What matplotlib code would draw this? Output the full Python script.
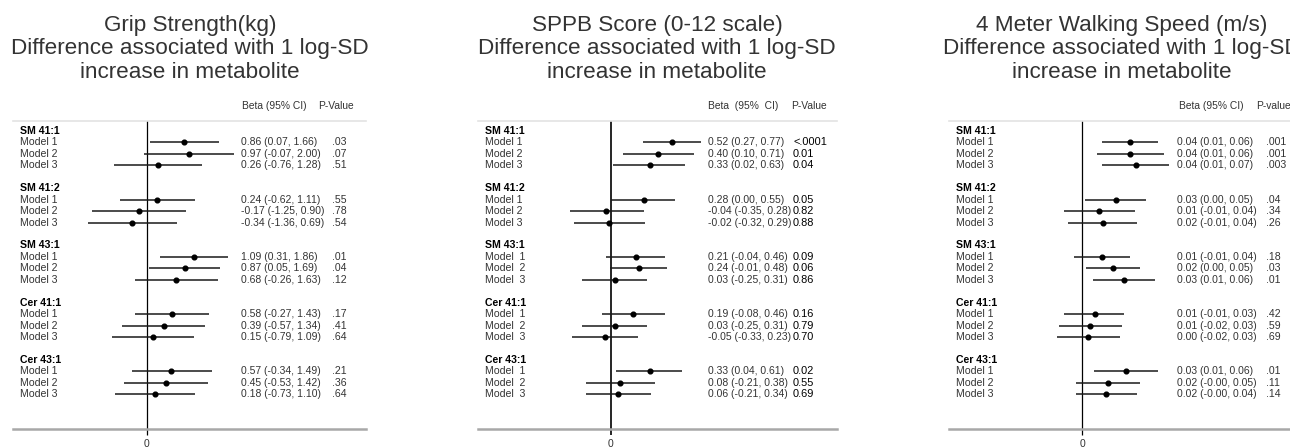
import numpy as np
import matplotlib.pyplot as plt
from matplotlib.transforms import blended_transform_factory

plt.rcParams['font.family'] = ['Liberation Sans', 'DejaVu Sans']

groups = ["SM 41:1", "SM 41:2", "SM 43:1", "Cer 41:1", "Cer 43:1"]

# grip strength
grip_beta = [0.86, 0.97, 0.26, 0.24, -0.17, -0.34, 1.09, 0.87, 0.68,
             0.58, 0.39, 0.15, 0.57, 0.45, 0.18]
grip_lo = [0.07, -0.07, -0.76, -0.62, -1.25, -1.36, 0.31, 0.05, -0.26,
           -0.27, -0.57, -0.79, -0.34, -0.53, -0.73]
grip_hi = [1.66, 2.00, 1.28, 1.11, 0.90, 0.69, 1.86, 1.69, 1.63,
           1.43, 1.34, 1.09, 1.49, 1.42, 1.10]
grip_ci = ["0.86 (0.07, 1.66)", "0.97 (-0.07, 2.00)", "0.26 (-0.76, 1.28)",
           "0.24 (-0.62, 1.11)", "-0.17 (-1.25, 0.90)", "-0.34 (-1.36, 0.69)",
           "1.09 (0.31, 1.86)", "0.87 (0.05, 1.69)", "0.68 (-0.26, 1.63)",
           "0.58 (-0.27, 1.43)", "0.39 (-0.57, 1.34)", "0.15 (-0.79, 1.09)",
           "0.57 (-0.34, 1.49)", "0.45 (-0.53, 1.42)", "0.18 (-0.73, 1.10)"]
grip_p = [".03", ".07", ".51", ".55", ".78", ".54", ".01", ".04", ".12",
          ".17", ".41", ".64", ".21", ".36", ".64"]

# SPPB score
sppb_beta = [0.52, 0.40, 0.33, 0.28, -0.04, -0.02, 0.21, 0.24, 0.03,
             0.19, 0.03, -0.05, 0.33, 0.08, 0.06]
sppb_lo = [0.27, 0.10, 0.02, 0.00, -0.35, -0.32, -0.04, -0.01, -0.25,
           -0.08, -0.25, -0.33, 0.04, -0.21, -0.21]
sppb_hi = [0.77, 0.71, 0.63, 0.55, 0.28, 0.29, 0.46, 0.48, 0.31,
           0.46, 0.31, 0.23, 0.61, 0.38, 0.34]
sppb_ci = ["0.52 (0.27, 0.77)", "0.40 (0.10, 0.71)", "0.33 (0.02, 0.63)",
           "0.28 (0.00, 0.55)", "-0.04 (-0.35, 0.28)", "-0.02 (-0.32, 0.29)",
           "0.21 (-0.04, 0.46)", "0.24 (-0.01, 0.48)", "0.03 (-0.25, 0.31)",
           "0.19 (-0.08, 0.46)", "0.03 (-0.25, 0.31)", "-0.05 (-0.33, 0.23)",
           "0.33 (0.04, 0.61)", "0.08 (-0.21, 0.38)", "0.06 (-0.21, 0.34)"]
sppb_p = ["<.0001", "0.01", "0.04", "0.05", "0.82", "0.88", "0.09", "0.06", "0.86",
          "0.16", "0.79", "0.70", "0.02", "0.55", "0.69"]

# walking speed (unrounded estimates)
walk_beta = [0.038, 0.038, 0.043, 0.027, 0.013, 0.0165, 0.0155, 0.0245, 0.0336,
             0.0104, 0.0059, 0.0048, 0.0347, 0.0203, 0.0192]
walk_lo = [0.0155, 0.0115, 0.0155, 0.0024, -0.0144, -0.0112, -0.0069, 0.0032, 0.0083,
           -0.0144, -0.0187, -0.0205, 0.0096, -0.0053, -0.0053]
walk_hi = [0.0603, 0.0653, 0.0696, 0.0509, 0.0421, 0.044, 0.0379, 0.0461, 0.0584,
           0.0336, 0.0315, 0.0301, 0.0605, 0.0461, 0.044]
walk_ci = ["0.04 (0.01, 0.06)", "0.04 (0.01, 0.06)", "0.04 (0.01, 0.07)",
           "0.03 (0.00, 0.05)", "0.01 (-0.01, 0.04)", "0.02 (-0.01, 0.04)",
           "0.01 (-0.01, 0.04)", "0.02 (0.00, 0.05)", "0.03 (0.01, 0.06)",
           "0.01 (-0.01, 0.03)", "0.01 (-0.02, 0.03)", "0.00 (-0.02, 0.03)",
           "0.03 (0.01, 0.06)", "0.02 (-0.00, 0.05)", "0.02 (-0.00, 0.04)"]
walk_p = [".001", ".001", ".003", ".04", ".34", ".26", ".18", ".03", ".01",
          ".42", ".59", ".69", ".01", ".11", ".14"]

titles = [
    ["Grip Strength(kg)", "Difference associated with 1 log-SD", "increase in metabolite"],
    ["SPPB Score (0-12 scale)", "Difference associated with 1 log-SD", "increase in metabolite"],
    ["4 Meter Walking Speed (m/s)", "Difference associated with 1 log-SD", "increase in metabolite"],
]

W, H = 1290, 448
TXT = '#333333'

# layout in pixels: axes left/right, zero position, px per unit, text columns
panels = [
    dict(beta=grip_beta, lo=grip_lo, hi=grip_hi, ci=grip_ci, p=grip_p,
         L=13, R=366, Z=146.7, S=43.5, lab=20, val=241, pv=332,
         hb=241.7, hp=318.3, hdr=("Beta (95% CI)", "P-Value"),
         title_x=190, double=False, pbold=False, zlw=0.9),
    dict(beta=sppb_beta, lo=sppb_lo, hi=sppb_hi, ci=sppb_ci, p=sppb_p,
         L=478, R=837, Z=611, S=117, lab=485, val=708, pv=793,
         hb=707.7, hp=791, hdr=("Beta  (95%  CI)", "P-Value"),
         title_x=657, double=True, pbold=True, zlw=1.2),
    dict(beta=walk_beta, lo=walk_lo, hi=walk_hi, ci=walk_ci, p=walk_p,
         L=949, R=1299, Z=1082.3, S=1250, lab=956, val=1176.7, pv=1265.7,
         hb=1179, hp=1256, hdr=("Beta (95% CI)", "P-value"),
         title_x=1122, double=False, pbold=False, zlw=0.9),
]

ROW0, DY = 131.0, 11.45
TOP, BOT = 121, 429

fig = plt.figure(figsize=(W / 100, H / 100), dpi=100)

for k, pn in enumerate(panels):
    ax = fig.add_axes([pn['L'] / W, 1 - BOT / H, (pn['R'] - pn['L']) / W, (BOT - TOP) / H])
    ax.set_xlim((pn['L'] - pn['Z']) / pn['S'], (pn['R'] - pn['Z']) / pn['S'])
    ax.set_ylim((BOT - ROW0) / DY, (TOP - ROW0) / DY)
    for s in ['left', 'right']:
        ax.spines[s].set_visible(False)
    ax.spines['top'].set_color('#e3e3e3')
    ax.spines['top'].set_linewidth(1.2)
    ax.spines['bottom'].set_color('#a8a8a8')
    ax.spines['bottom'].set_linewidth(1.8)
    ax.set_yticks([])
    ax.set_xticks([0])
    ax.set_xticklabels(["0"])
    ax.tick_params(axis='x', length=4.5, width=pn['zlw'], color='black',
                   labelsize=7.5, labelcolor=TXT, pad=3)
    ax.axvline(0, color='black', lw=pn['zlw'], zorder=1)

    tr = blended_transform_factory(fig.transFigure, ax.transData)
    rows = []
    for g, name in enumerate(groups):
        ax.text(pn['lab'] / W, 5 * g, name, transform=tr, fontsize=7.6,
                fontweight='bold', color='black', va='center', ha='left')
        for m in range(3):
            rows.append(5 * g + 1 + m)
            sep = "  " if (pn['double'] and g >= 2) else " "
            ax.text(pn['lab'] / W, 5 * g + 1 + m, "Model" + sep + str(m + 1),
                    transform=tr, fontsize=7.6, color=TXT, va='center', ha='left')
    rows = np.array(rows)

    ax.hlines(rows, pn['lo'], pn['hi'], color='#1a1a1a', lw=1.1, zorder=2)
    ax.plot(pn['beta'], rows, 'o', color='black', ms=3.4, zorder=3)

    for i, y in enumerate(rows):
        ax.text(pn['val'] / W, y, pn['ci'][i], transform=tr, fontsize=7.5,
                color=TXT, va='center', ha='left')
        ax.text(pn['pv'] / W, y, pn['p'][i], transform=tr,
                fontsize=7.9 if pn['pbold'] else 7.6,
                color='black' if pn['pbold'] else TXT, va='center', ha='left')

    fig.text(pn['hb'] / W, 1 - 106 / H, pn['hdr'][0], fontsize=7.4, color=TXT,
             va='center', ha='left')
    fig.text(pn['hp'] / W, 1 - 106 / H, pn['hdr'][1], fontsize=7.4, color=TXT,
             va='center', ha='left')

    for j, line in enumerate(titles[k]):
        fig.text(pn['title_x'] / W, 1 - (25 + 23.5 * j) / H, line, fontsize=16.2,
                 color=TXT, ha='center', va='center')

fig.savefig("out.png", dpi=100)
